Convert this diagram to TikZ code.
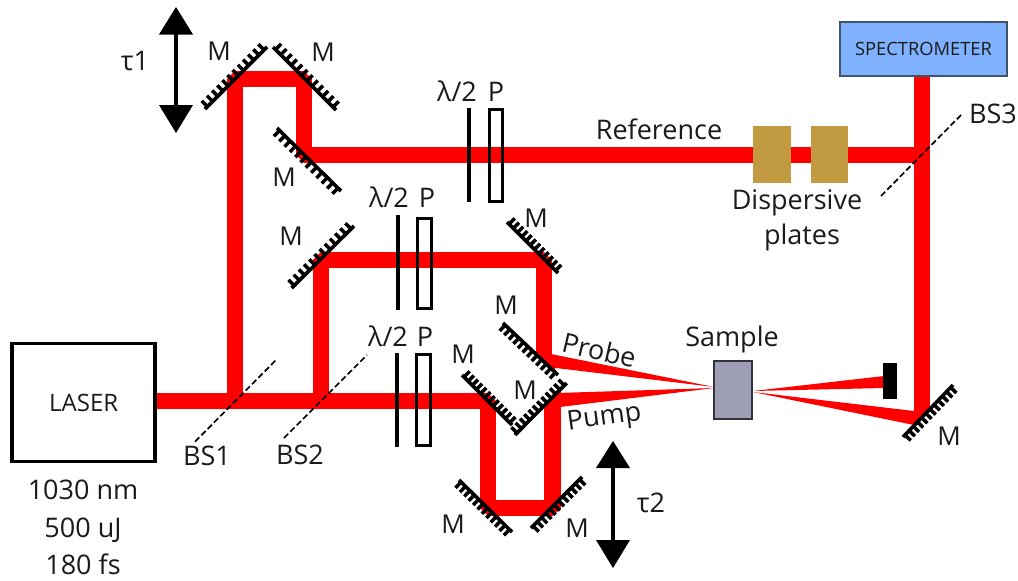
\documentclass[tikz,border=0pt]{standalone}
\usepackage{fontspec}
\setmainfont{Open Sans}
\usetikzlibrary{calc}
\definecolor{beamred}{HTML}{FF0000}
\definecolor{labelgray}{HTML}{1A1A1A}
\definecolor{specblue}{HTML}{7FB1FF}
\definecolor{specedge}{HTML}{3F5468}
\definecolor{plategold}{HTML}{C19A42}
\definecolor{samplegray}{HTML}{9E9EB4}
\definecolor{sampleedge}{HTML}{333340}
\tikzset{
  beam/.style={line width=16.5pt,draw=beamred,line cap=butt,line join=bevel},
  taper/.style={fill=beamred,draw=none},
  plateline/.style={line width=4pt,draw=black},
  polarizer/.style={draw=black,line width=3pt,fill=none},
  guide/.style={draw=black,line width=1.7pt,dash pattern=on 6pt off 3pt},
  lbl/.style={text=labelgray,inner sep=0pt,text height=18pt,text depth=0pt,font=\fontsize{27}{29}\selectfont},
  mlbl/.style={lbl,font=\fontsize{26}{28}\selectfont},
  mirrorline/.style={draw=black,line width=3.6pt},
  hatchline/.style={draw=black,line width=3.5pt},
  headfill/.style={fill=black,draw=none},
}
% \mirrorat{x1}{y1}{x2}{y2}{side}: surface from (x1,y1) to (x2,y2), hatch ticks on the given side
\newcommand{\mirrorat}[5]{%
  \draw[mirrorline] (#1,#2) -- (#3,#4);
  \foreach \t in {0.04,0.123,...,1.0}{
    \draw[hatchline]
      ($(#1,#2)!\t!(#3,#4)$) -- ($($(#1,#2)!\t!(#3,#4)$)!8pt!#5:(#3,#4)$);
  }
}
\begin{document}
\begin{tikzpicture}[x=1pt,y=-1pt]
\useasboundingbox (0,0) rectangle (1018,581);
% beams
\draw[beam] (157,401) -- (488,401) -- (488,508) -- (552.5,508) -- (552.5,406);
\draw[beam] (235,401) -- (235,79) -- (304,79) -- (304,155) -- (922,155);
\draw[beam] (321,401) -- (321,260) -- (544,260) -- (544,355);
\draw[beam] (922,76) -- (922,409);
% beam ends cut along the mirrors
\fill[taper] (535.75,354) -- (552.25,354) -- (552.25,370) -- cycle;
\fill[taper] (544.25,406.5) -- (560.75,389.5) -- (560.75,406.5) -- cycle;
\fill[taper] (913.75,408) -- (930.25,408) -- (913.75,425) -- cycle;
% tapered beams
\fill[taper] (551,354) -- (714,387) -- (556,368) -- (552,370) -- cycle;
\fill[taper] (557,393) -- (714,388) -- (560,407) -- cycle;
\fill[taper] (753,391) -- (884,376) -- (884,388) -- cycle;
\fill[taper] (753,392) -- (914,411) -- (914,425) -- cycle;
% mirrors
\mirrorat{205}{109}{267}{47}{90}
\mirrorat{273}{47}{336}{110}{90}
\mirrorat{277}{128}{341}{191}{-90}
\mirrorat{291.7}{288}{354}{226}{90}
\mirrorat{507}{222}{558}{273}{90}
\mirrorat{503}{323}{558}{375}{-90}
\mirrorat{462}{375}{512}{425}{90}
\mirrorat{515}{435}{566.7}{383}{90}
\mirrorat{459}{480}{512}{532}{-90}
\mirrorat{531}{528}{582}{477}{-90}
\mirrorat{903}{437}{953}{385}{-90}
% wave plates and polarisers
\draw[plateline] (469,108) -- (469,202);
\draw[polarizer] (489,109) rectangle (502,201);
\draw[plateline] (398,215) -- (398,310);
\draw[polarizer] (417,218) rectangle (431.5,308);
\draw[plateline] (397,353) -- (397,447);
\draw[polarizer] (416,354) rectangle (430.5,445);
% boxes
\node[draw=black,line width=3.5pt,minimum width=143pt,minimum height=118pt,inner sep=0pt,font=\fontsize{24}{26}\selectfont,text=labelgray] (laser) at (83.7,402.7) {LASER};
\node[draw=specedge,fill=specblue,line width=1.2pt,minimum width=167pt,minimum height=54pt,inner sep=0pt,font=\fontsize{18.3}{20}\selectfont,text=labelgray] (spec) at (923.5,49) {SPECTROMETER};
\node[fill=plategold,minimum width=38pt,minimum height=57pt,inner sep=0pt] (plateA) at (772,154.5) {};
\node[fill=plategold,minimum width=37pt,minimum height=57pt,inner sep=0pt] (plateB) at (829.5,154.5) {};
\node[draw=sampleedge,fill=samplegray,line width=1.2pt,minimum width=38pt,minimum height=58pt,inner sep=0pt] (sample) at (733,390) {};
\node[fill=black,minimum width=14pt,minimum height=36pt,inner sep=0pt] (dump) at (890,381) {};
% dashed guides
\draw[guide] (881,196) -- (963,113);
\draw[guide] (195,441.7) -- (277,359);
\draw[guide] (284,438) -- (367,355);
% motion arrows
\draw[line width=4pt] (176,30) -- (176,110);
\fill[headfill] (176,7) -- (193,34.5) -- (159,34.5) -- cycle;
\fill[headfill] (176,133) -- (193,105) -- (159,105) -- cycle;
\draw[line width=4pt] (613,462) -- (613,545);
\fill[headfill] (613,441) -- (630,468) -- (596,468) -- cycle;
\fill[headfill] (613,568) -- (630,540) -- (596,540) -- cycle;
% labels
\node[lbl] (t1) at (135,61) {τ1};
\node[lbl] (t2) at (651,503) {τ2};
\node[mlbl] (m1) at (219,51) {M};
\node[mlbl] (m2) at (323,52) {M};
\node[mlbl] (m3) at (284,177) {M};
\node[mlbl] (m4) at (291,236) {M};
\node[mlbl] (m5) at (536,218) {M};
\node[mlbl] (m6) at (506,305) {M};
\node[mlbl] (m7) at (463,354) {M};
\node[mlbl] (m8) at (525,390) {M};
\node[mlbl] (m9) at (453,524) {M};
\node[mlbl] (m10) at (577,528) {M};
\node[mlbl] (m11) at (949,436) {M};
\node[lbl] (l1) at (457,92) {λ/2};
\node[lbl] (p1) at (496,92) {P};
\node[lbl] (l2) at (389,198) {λ/2};
\node[lbl] (p2) at (427,198) {P};
\node[lbl] (l3) at (388,337) {λ/2};
\node[lbl] (p3) at (425,337) {P};
\node[lbl] (ref) at (659,130) {Reference};
\node[lbl] (disp) at (797,200) {Dispersive};
\node[lbl] (plates) at (802,235) {plates};
\node[lbl] (bs3) at (993,114) {BS3};
\node[lbl] (samp) at (732,337) {Sample};
\node[lbl,rotate=-13] (probe) at (599,351) {Probe};
\node[lbl,rotate=8] (pump) at (604,416) {Pump};
\node[lbl] (bs1) at (207,456) {BS1};
\node[lbl] (bs2) at (300,455) {BS2};
\node[lbl] (w1) at (83,490) {1030 nm};
\node[lbl] (w2) at (83,528) {500 uJ};
\node[lbl] (w3) at (83,565) {180 fs};
\end{tikzpicture}
\end{document}
